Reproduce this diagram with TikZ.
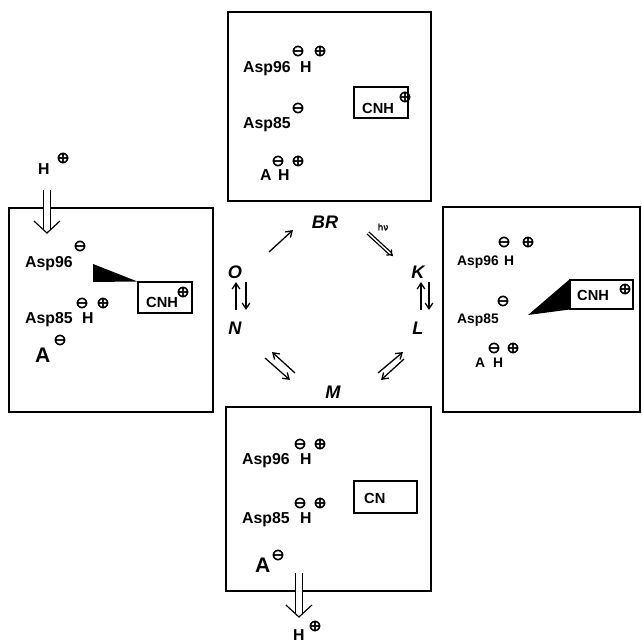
\documentclass[tikz,border=0pt]{standalone}
\usepackage{fontspec}
\setmainfont{Liberation Sans}
\newfontfamily\symfont[UprightFeatures={FakeBold=2.2}]{DejaVu Sans}
\usetikzlibrary{positioning, arrows.meta, fit}
\newcommand{\pl}{⊕}
\newcommand{\mi}{⊖}

\begin{document}
\begin{tikzpicture}[
		x=0.3mm, y=-0.3mm,
		panel/.style={draw, line width=1.2pt, inner sep=0pt},
		chromo/.style={draw, line width=0.9pt, inner sep=0pt},
		group/.style={anchor=base west, inner sep=0pt, font=\fontsize{13.5}{15}\selectfont\bfseries},
		lgroup/.style={group, font=\fontsize{11.8}{13}\selectfont\bfseries},
		small/.style={anchor=base west, inner sep=0pt, font=\fontsize{12.5}{14}\selectfont\bfseries},
		bigA/.style={anchor=base west, inner sep=0pt, font=\fontsize{18}{20}\selectfont\bfseries},
		chg/.style={inner sep=0pt, font=\fontsize{13.5}{14}\selectfont\symfont},
		state/.style={inner sep=1pt, font=\fontsize{15.5}{17}\selectfont\bfseries\itshape},
		eq/.style={-{Straight Barb[length=5pt, width=6.5pt]}, line width=1.1pt},
		light/.style={double, double distance=1.2pt, line width=1.1pt, -{Implies}},
		proton/.style={double, double distance=5pt, line width=1pt},
		protontip/.style={line width=1pt, line join=miter}
		]
		\useasboundingbox (0,0) rectangle (642,642);
		
		% photocycle states
		\node[state] (BR) at (325,222) {BR};
		\node[state] (K) at (418,272) {K};
		\node[state] (L) at (418,328) {L};
		\node[state] (M) at (333,392) {M};
		\node[state] (N) at (235,328) {N};
		\node[state] (O) at (235,272) {O};
		
		% transitions
		\draw[eq] ([shift={(34,-20)}]O.center) -- ([shift={(-32,8)}]BR.center);
		\draw[light] ([shift={(43,11)}]BR.center) -- ([shift={(-25,-16)}]K.center);
		\node[inner sep=0pt, font=\fontsize{7.5}{8}\selectfont\symfont] (hv) at (383,227) {hν};
		\draw[eq] ([shift={(3,-18)}]L.center) -- ([shift={(3,10)}]K.center);
		\draw[eq] ([shift={(11,10)}]K.center) -- ([shift={(11,-18)}]L.center);
		\draw[eq] ([shift={(45,-19)}]M.center) -- ([shift={(-15,24)}]L.center);
		\draw[eq] ([shift={(-14,31)}]L.center) -- ([shift={(48,-12)}]M.center);
		\draw[eq] ([shift={(-38,-19)}]M.center) -- ([shift={(37,24)}]N.center);
		\draw[eq] ([shift={(30,30)}]N.center) -- ([shift={(-43,-12)}]M.center);
		\draw[eq] ([shift={(1,-18)}]N.center) -- ([shift={(1,10)}]O.center);
		\draw[eq] ([shift={(11,10)}]O.center) -- ([shift={(11,-18)}]N.center);
		
		% BR box
		\node[panel, fit={(228,12) (431,201)}] (brbox) {};
		\node[group] (br96) at (243,72) {Asp96};
		\node[group] (br96H) at (300,72) {H};
		\node[chg] (br96m) at (298,51) {\mi};
		\node[chg] (br96p) at (320,51) {\pl};
		\node[group] (br85) at (243,128) {Asp85};
		\node[chg] (br85m) at (298,108) {\mi};
		\node[group] (brA) at (260,180) {A};
		\node[group] (brAH) at (278,180) {H};
		\node[chg] (brAm) at (278,161) {\mi};
		\node[chg] (brAp) at (298,161) {\pl};
		\node[chromo, fit={(354,87) (408,118)}] (brcnh) {};
		\node[small] (brcnht) at (362,113) {CNH};
		\node[chg] (brcnhp) at (405,97) {\pl};
		
		% K/L box
		\node[panel, fit={(443,207) (640,412)}] (klbox) {};
		\node[lgroup] (kl96) at (457,265) {Asp96};
		\node[lgroup] (kl96H) at (504,265) {H};
		\node[chg] (kl96m) at (504,242) {\mi};
		\node[chg] (kl96p) at (528,242) {\pl};
		\node[lgroup] (kl85) at (457,323) {Asp85};
		\node[chg] (kl85m) at (503,301) {\mi};
		\node[chromo, fit={(570,280) (633,309)}] (klcnh) {};
		\node[small] (klcnht) at (577,300) {CNH};
		\node[chg] (klcnhp) at (625,289) {\pl};
		\fill (528,315) -- (klcnh.north west) -- (klcnh.south west) -- cycle;
		\node[lgroup] (klA) at (475,367) {A};
		\node[lgroup] (klAH) at (493,367) {H};
		\node[chg] (klAm) at (494,348) {\mi};
		\node[chg] (klAp) at (513,348) {\pl};
		
		% M box
		\node[panel, fit={(226,407) (431,591)}] (mbox) {};
		\node[group] (m96) at (242,464) {Asp96};
		\node[group] (m96H) at (300,464) {H};
		\node[chg] (m96m) at (300,444) {\mi};
		\node[chg] (m96p) at (320,444) {\pl};
		\node[group] (m85) at (242,523) {Asp85};
		\node[group] (m85H) at (300,523) {H};
		\node[chg] (m85m) at (300,503) {\mi};
		\node[chg] (m85p) at (320,503) {\pl};
		\node[chromo, fit={(354,481) (417,513)}] (mcn) {};
		\node[small] (mcnt) at (364,503) {CN};
		\node[bigA] (mA) at (255,572) {A};
		\node[chg] (mAm) at (278,555) {\mi};
		\node[group] (Hout) at (293,640) {H};
		\node[chg] (Houtp) at (315,626) {\pl};
		\coordinate (outTip) at ([shift={(0,-23)}]Hout.base);
		\draw[proton] ([shift={(0,-67)}]Hout.base) -- ([shift={(0,-4)}]outTip);
		\draw[protontip] ([shift={(-13,-12)}]outTip) -- (outTip) -- ([shift={(13,-12)}]outTip);
		
		% N/O box
		\node[panel, fit={(9,208) (213,412)}] (nobox) {};
		\node[group] (Hin) at (38,174) {H};
		\node[chg] (Hinp) at (63,158) {\pl};
		\coordinate (inTip) at ([shift={(3,59)}]Hin.base);
		\draw[proton] ([shift={(3,16)}]Hin.base) -- ([shift={(0,-4)}]inTip);
		\draw[protontip] ([shift={(-13,-12)}]inTip) -- (inTip) -- ([shift={(13,-12)}]inTip);
		\node[group] (no96) at (25,267) {Asp96};
		\node[chg] (no96m) at (80,246) {\mi};
		\node[chromo, fit={(138,282) (192,313)}] (nocnh) {};
		\node[small] (nocnht) at (146,307) {CNH};
		\node[chg] (nocnhp) at (183,292) {\pl};
		\fill (93,264) -- (93,282) -- (nocnh.north west) -- cycle;
		\node[group] (no85) at (25,323) {Asp85};
		\node[group] (no85H) at (82,323) {H};
		\node[chg] (no85m) at (82,303) {\mi};
		\node[chg] (no85p) at (103,303) {\pl};
		\node[bigA] (noA) at (35,362) {A};
		\node[chg] (noAm) at (60,340) {\mi};
		
	\end{tikzpicture}
\end{document}
